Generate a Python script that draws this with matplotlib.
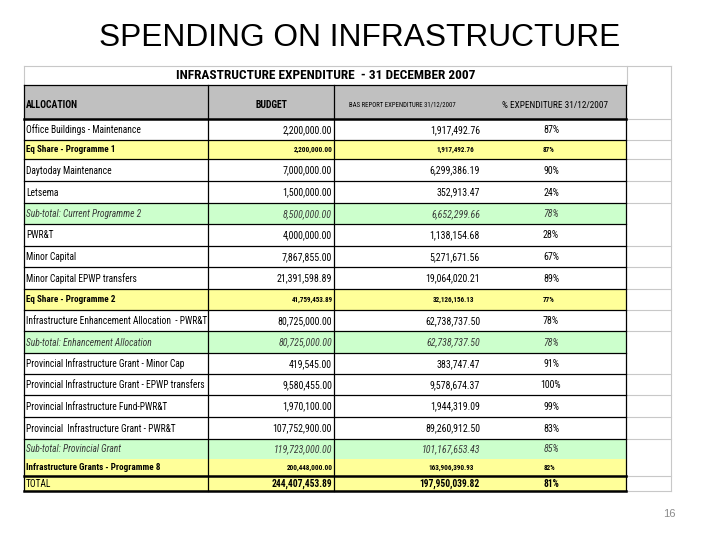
import matplotlib
matplotlib.use("Agg")
import matplotlib.pyplot as plt
from matplotlib import font_manager as fm
from matplotlib.font_manager import FontProperties
from matplotlib.textpath import TextPath
from matplotlib.patches import Rectangle

# ---------------- data ----------------
main_title = "SPENDING ON INFRASTRUCTURE"
table_title = "INFRASTRUCTURE EXPENDITURE  - 31 DECEMBER 2007"
headers = ["ALLOCATION", "BUDGET", "BAS REPORT EXPENDITURE 31/12/2007",
           "% EXPENDITURE 31/12/2007"]
page_number = "16"

allocation = [
    "Office Buildings - Maintenance",
    "Eq Share - Programme 1",
    "Daytoday Maintenance",
    "Letsema",
    "Sub-total: Current Programme 2",
    "PWR&T",
    "Minor Capital",
    "Minor Capital EPWP transfers",
    "Eq Share - Programme 2",
    "Infrastructure Enhancement Allocation  - PWR&T",
    "Sub-total: Enhancement Allocation",
    "Provincial Infrastructure Grant - Minor Cap",
    "Provincial Infrastructure Grant - EPWP transfers",
    "Provincial Infrastructure Fund-PWR&T",
    "Provincial  Infrastructure Grant - PWR&T",
    "Sub-total: Provincial Grant",
    "Infrastructure Grants - Programme 8",
    "TOTAL",
]
budget = [2200000.00, 2200000.00, 7000000.00, 1500000.00, 8500000.00,
          4000000.00, 7867855.00, 21391598.89, 41759453.89, 80725000.00,
          80725000.00, 419545.00, 9580455.00, 1970100.00, 107752900.00,
          119723000.00, 200448000.00, 244407453.89]
bas_expenditure = [1917492.76, 1917492.76, 6299386.19, 352913.47, 6652299.66,
                   1138154.68, 5271671.56, 19064020.21, 32126156.13,
                   62738737.50, 62738737.50, 383747.47, 9578674.37,
                   1944319.09, 89260912.50, 101167653.43, 163906390.93,
                   197950039.82]
pct_expenditure = [87, 87, 90, 24, 78, 28, 67, 89, 77, 78, 78, 91, 100, 99,
                   83, 85, 82, 81]
row_kind = ["item", "eq", "item", "item", "sub", "item", "item", "item", "eq",
            "item", "sub", "item", "item", "item", "item", "sub", "eq",
            "total"]

# ---------------- layout / style ----------------
fill = {"item": "white", "eq": "#FFFF99", "sub": "#CCFFCC", "total": "#FFFF99"}
row_heights = [21, 19, 22, 22, 21, 22, 21, 22, 21, 21, 22, 21, 21, 22, 22,
               20, 17, 15]
x_left, x_c1, x_c2, x_right, x_grid = 24, 208, 334, 626, 671
y_top, y_head, y_head_bot = 66, 85, 119

# pick a condensed face if one is installed; scale sizes to keep Arial widths
names = {f.name for f in fm.fontManager.ttflist}
fam, k = "Liberation Sans", 1.0
sample = "Provincial Infrastructure Grant 1,970,100.00"


def _w(family):
    return TextPath((0, 0), sample, size=10,
                    prop=FontProperties(family=family)).get_extents().width


for cand in ("Liberation Sans Narrow", "Arial Narrow", "Roboto Condensed"):
    if cand in names:
        fam = cand
        k = _w("Liberation Sans") / _w(cand)
        break

fig = plt.figure(figsize=(7.2, 5.4), dpi=100)
ax = fig.add_axes([0, 0, 1, 1])
ax.set_xlim(0, 720)
ax.set_ylim(540, 0)
ax.axis("off")

# main title & page number
ax.text(360, 38.5, main_title, family="Liberation Sans", fontsize=22.8,
        ha="center", va="center", color="black")
ax.text(669, 514, page_number, family="Liberation Sans", fontsize=8,
        ha="center", va="center", color="#8c8c8c")

# row boundaries
bounds = [y_head_bot]
for h in row_heights:
    bounds.append(bounds[-1] + h)
y_bot = bounds[-1]

# fills
ax.add_patch(Rectangle((x_left, y_head), x_right - x_left, y_head_bot - y_head,
                       facecolor="#C0C0C0", edgecolor="none", zorder=1))
for i, kind in enumerate(row_kind):
    ax.add_patch(Rectangle((x_left, bounds[i]), x_right - x_left,
                           bounds[i + 1] - bounds[i], facecolor=fill[kind],
                           edgecolor="none", zorder=1))

# light spreadsheet grid
g = dict(color="#C8C8C8", lw=0.8, zorder=2)
ax.plot([x_left, x_grid], [y_top, y_top], **g)
ax.plot([x_left, x_left], [y_top, y_head], **g)
ax.plot([x_right + 1, x_right + 1], [y_top, y_head], **g)
ax.plot([x_grid, x_grid], [y_top, y_bot], **g)
for i, y in enumerate(bounds):
    if 0 < i < len(row_kind) and row_kind[i - 1] == "sub":
        continue
    ax.plot([x_right, x_grid], [y, y], **g)

# black table lines
b = dict(color="black", lw=0.9, zorder=3, solid_capstyle="projecting")
ax.plot([x_left, x_right], [y_head, y_head], **b)
for i, y in enumerate(bounds):
    if 0 < i < len(row_kind) and row_kind[i - 1] == "sub" and row_kind[i] == "eq":
        continue
    lw = 1.8 if (i == 0 or i == len(bounds) - 1 or
                 (i < len(row_kind) and row_kind[i] == "total")) else 0.9
    ax.plot([x_left, x_right], [y, y], color="black", lw=lw, zorder=3)
for x in (x_left, x_c1, x_c2, x_right):
    ax.plot([x, x], [y_head, y_bot], **b)

# table title and headers
ax.text(326, 75.5, table_title, family=fam, fontsize=8.55 * k, weight="bold",
        ha="center", va="center")
hy = 105
ax.text(26, hy, headers[0], family=fam, fontsize=6.2 * k, weight="bold",
        ha="left", va="center")
ax.text(271, hy, headers[1], family=fam, fontsize=6.2 * k, weight="bold",
        ha="center", va="center")
ax.text(402, hy, headers[2], family=fam, fontsize=4.35 * k, ha="center", va="center")
ax.text(555, hy, headers[3], family=fam, fontsize=5.9 * k, ha="center", va="center")

# body rows
for i, kind in enumerate(row_kind):
    yc = (bounds[i] + bounds[i + 1]) / 2 + 0.5
    if kind == "eq":
        lab = dict(fontsize=5.8 * k, weight="bold", style="normal", color="black")
        val = dict(fontsize=4.6 * k, weight="bold", style="normal", color="black")
        rb, rs, pc = 333, 474, 549
    elif kind == "sub":
        lab = dict(fontsize=6.1 * k, weight="normal", style="italic", color="#3a3a3a")
        val = dict(fontsize=6.3 * k, weight="normal", style="italic", color="#3a3a3a")
        rb, rs, pc = 332, 480, 551
    elif kind == "total":
        lab = dict(fontsize=6.1 * k, weight="normal", style="normal", color="black")
        val = dict(fontsize=6.1 * k, weight="bold", style="normal", color="black")
        rb, rs, pc = 332, 480, 551
    else:
        lab = dict(fontsize=6.1 * k, weight="normal", style="normal", color="black")
        val = dict(fontsize=6.3 * k, weight="normal", style="normal", color="black")
        rb, rs, pc = 332, 480, 551
    ax.text(26, yc, allocation[i], family=fam, ha="left", va="center", zorder=4, **lab)
    ax.text(rb, yc, f"{budget[i]:,.2f}", family=fam, ha="right", va="center",
            zorder=4, **val)
    ax.text(rs, yc, f"{bas_expenditure[i]:,.2f}", family=fam, ha="right",
            va="center", zorder=4, **val)
    ax.text(pc, yc, f"{pct_expenditure[i]}%", family=fam, ha="center",
            va="center", zorder=4, **val)

fig.savefig("out.png", dpi=100)
